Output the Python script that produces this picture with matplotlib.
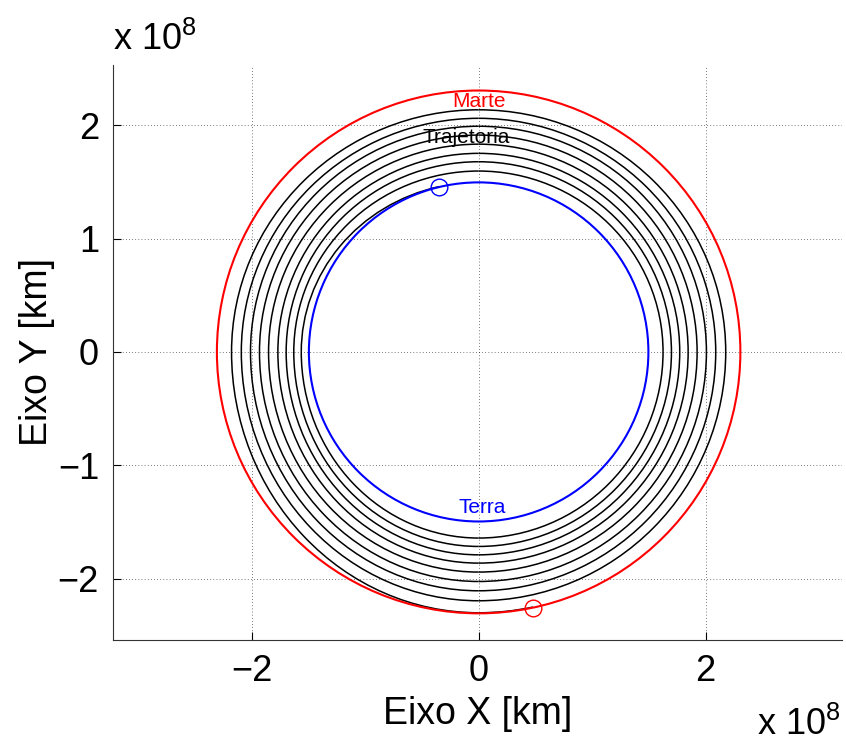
import numpy as np
import matplotlib
matplotlib.use("Agg")
import matplotlib.pyplot as plt
from matplotlib.patches import Arc, Circle

plt.rcParams['font.family'] = ['Liberation Sans', 'DejaVu Sans']
plt.rcParams['mathtext.fontset'] = 'custom'
plt.rcParams['mathtext.rm'] = 'Liberation Sans'
plt.rcParams['mathtext.it'] = 'Liberation Sans'

# raios em unidades de 1e8 km
R_TERRA = 1.495
R_MARTE = 2.305
ang_inicio = 103.5   # graus, ponto de partida na orbita da Terra
ang_fim = 282.0      # graus, chegada na orbita de Marte

# raios da trajetoria onde ela cruza os eixos, volta a volta
r_esq = [1.562, 1.628, 1.695, 1.768, 1.850, 1.930, 2.009, 2.090, 2.176]   # 180 graus
r_baixo = [1.641, 1.715, 1.789, 1.862, 1.941, 2.024, 2.106, 2.194, 2.300]  # 270 graus
r_dir = [1.624, 1.698, 1.771, 1.845, 1.924, 2.006, 2.088, 2.176]          # 0 graus
r_topo = [1.595, 1.677, 1.751, 1.832, 1.912, 1.990, 2.060, 2.135]         # 90 graus

xticks = [-2, 0, 2]
yticks = [-2, -1, 0, 1, 2]

fig = plt.figure(figsize=(8.46, 7.44), dpi=100)
ax = fig.add_axes([113/846, 1-640/744, (842-113)/846, (640-65)/744])

def quarto(a, b, t1, t2):
    ax.add_patch(Arc((0, 0), 2*a, 2*b, theta1=t1, theta2=t2, color='k', lw=1.1, zorder=2))

# trajetoria (arcos de elipse entre os cruzamentos)
quarto(r_esq[0], R_TERRA, ang_inicio, 180)
for k in range(len(r_dir)):
    quarto(r_esq[k], r_baixo[k], 180, 270)
    quarto(r_dir[k], r_baixo[k], 270, 360)
    quarto(r_dir[k], r_topo[k], 0, 90)
    quarto(r_esq[k+1], r_topo[k], 90, 180)
quarto(r_esq[-1], r_baixo[-1], 180, 270)
quarto(r_baixo[-1], r_baixo[-1], 270, ang_fim)

ax.add_patch(Circle((0, 0), R_TERRA, fill=False, ec='b', lw=1.5, zorder=3))
ax.add_patch(Circle((0, 0), R_MARTE, fill=False, ec='r', lw=1.5, zorder=3))

ti = np.deg2rad(ang_inicio)
tf = np.deg2rad(ang_fim)
ax.plot(R_TERRA*np.cos(ti), R_TERRA*np.sin(ti), 'o', ms=12, mfc='none', mec='b', mew=1.0, zorder=4)
ax.plot(R_MARTE*np.cos(tf), R_MARTE*np.sin(tf), 'o', ms=12, mfc='none', mec='r', mew=1.0, zorder=4)

ax.text(0.0, 2.21, 'Marte', color='r', fontsize=15, ha='center', va='center', zorder=5)
ax.text(-0.11, 1.89, 'Trajetoria', color='k', fontsize=15, ha='center', va='center', zorder=5)
ax.text(0.03, -1.37, 'Terra', color='b', fontsize=15, ha='center', va='center', zorder=5)

ax.set_xlim(-3.22, 3.20)
ax.set_ylim(-2.54, 2.53)
ax.set_xticks(xticks)
ax.set_xticklabels(['\u22122', '0', '2'])
ax.set_yticks(yticks)
ax.set_yticklabels(['\u22122', '\u22121', '0', '1', '2'])
ax.grid(True, color='k', linestyle=(0, (1, 3.5)), linewidth=0.5)
ax.set_axisbelow(True)
ax.tick_params(direction='in', length=6, width=0.8, labelsize=26, pad=10)
ax.spines['top'].set_visible(False)
ax.spines['right'].set_visible(False)
ax.spines['left'].set_color('0.2')
ax.spines['bottom'].set_color('0.2')

ax.set_xlabel('Eixo X [km]', fontsize=27, labelpad=5)
ax.set_ylabel('Eixo Y [km]', fontsize=27, labelpad=2)

fig.text(113/846, 1-50/744, 'x 10$^{8}$', fontsize=26, ha='left', va='baseline')
fig.text(757/846, 1-743/744, 'x 10$^{8}$', fontsize=26, ha='left', va='bottom')

fig.savefig('out.png', dpi=100)
